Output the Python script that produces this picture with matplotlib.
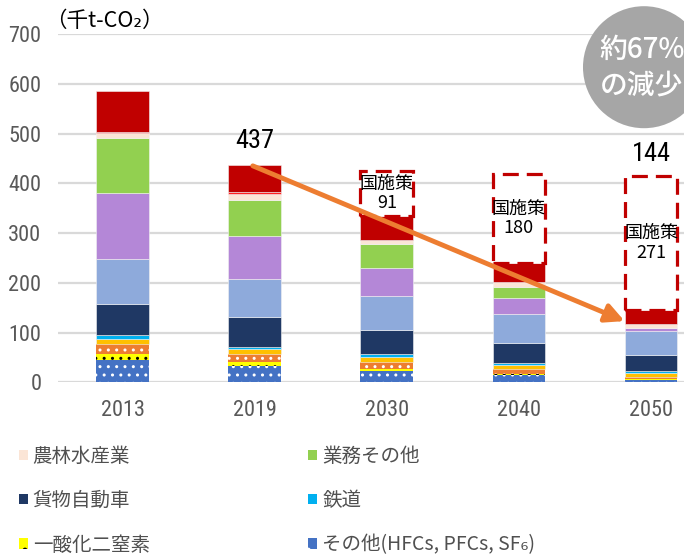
import matplotlib
matplotlib.use('Agg')
import numpy as np
from matplotlib import pyplot as plt
from matplotlib import font_manager
from matplotlib.patches import Patch, Ellipse

plt.rcParams['font.family'] = ['Noto Sans CJK JP', 'DejaVu Sans']
plt.rcParams['hatch.linewidth'] = 1.0

# pick the narrowest installed latin face for the numbers
installed = {f.name for f in font_manager.fontManager.ttflist}
narrow_fam = 'DejaVu Sans'
for cand in ['Liberation Sans Narrow', 'Roboto Condensed', 'Noto Sans Condensed',
             'Open Sans Condensed', 'Liberation Sans']:
    if cand in installed:
        narrow_fam = cand
        break

years = ['2013', '2019', '2030', '2040', '2050']

# stacked segments, bottom -> top (千t-CO2)
sonota = [45, 33, 23, 14, 4]          # その他(HFCs, PFCs, SF6)
n2o = [12, 8, 4, 3, 3]                # 一酸化二窒素
methane = [20, 15, 13, 9, 4]
waste = [10, 10, 11, 9, 8]
rail = [7.5, 5, 5, 3, 4]              # 鉄道
freight = [63.5, 60, 50, 42, 32]      # 貨物自動車
passenger = [89, 77, 67, 57, 48]
household = [133, 86, 57, 32, 6]
commercial = [111.5, 72, 47, 23, 0]   # 業務その他
agri = [9, 11.5, 8, 9, 8.5]           # 農林水産業
construction = [3, 4, 2, 1, 0]
manufacturing = [82.5, 55, 47, 37, 27]

# national measures (国施策) on top of 2030/2040/2050
kuni = [0, 0, 91, 180, 271]
top_labels = {1: '437', 4: '144'}

series = [
    (sonota, '#4472C4', '..', 'white', 'その他(HFCs, PFCs, SF₆)'),
    (n2o, '#FFFF00', '..', 'black', '一酸化二窒素'),
    (methane, '#ED7D31', '..', 'white', None),
    (waste, '#FFC000', None, None, None),
    (rail, '#00B0F0', None, None, '鉄道'),
    (freight, '#1F3864', None, None, '貨物自動車'),
    (passenger, '#8EAADB', None, None, None),
    (household, '#B487D7', None, None, None),
    (commercial, '#92D050', None, None, '業務その他'),
    (agri, '#FBE5D6', None, None, '農林水産業'),
    (construction, '#FF2020', None, None, None),
    (manufacturing, '#C00000', None, None, None),
]

fig = plt.figure(figsize=(6.84, 5.6), dpi=100)
ax = fig.add_axes([0.0848, 0.3173, 0.9635, 0.622])

x = np.arange(len(years))
w = 0.4
bottom = np.zeros(len(years))
handles = {}
for vals, col, hatch, hcol, name in series:
    vals = np.array(vals, dtype=float)
    if hatch:
        ax.bar(x, vals, w, bottom=bottom, color=col, edgecolor=hcol,
               hatch=hatch, linewidth=0, zorder=3)
    else:
        ax.bar(x, vals, w, bottom=bottom, color=col, edgecolor='#F2F2F2',
               linewidth=0.4, zorder=3)
    if name:
        handles[name] = Patch(facecolor=col, edgecolor=hcol if hcol else col,
                              hatch='.' if hatch else None, linewidth=0)
    bottom += vals

# dashed boxes for national measures
for i, k in enumerate(kuni):
    if k == 0:
        continue
    ax.bar(x[i], k, w, bottom=bottom[i], facecolor='white', edgecolor='#C00000',
           linewidth=2.3, linestyle=(0, (5, 2.5)), zorder=4)
    ax.text(x[i], bottom[i] + k / 2, '国施策\n' + str(k), ha='center', va='center',
            fontsize=13, color='black', linespacing=1.1, zorder=5)

label_gap = {1: 25, 4: 19}
for i, lab in top_labels.items():
    ypos = bottom[i] + kuni[i] + label_gap[i]
    ax.text(x[i], ypos, lab, ha='center', va='bottom', fontsize=19,
            color='black', zorder=5, family=narrow_fam)

# reduction arrow
ax.annotate('', xy=(3.8, 123), xytext=(0.985, 435),
            arrowprops=dict(arrowstyle='-|>', color='#ED7D31', lw=3.5,
                            mutation_scale=28, shrinkA=0, shrinkB=0), zorder=6)

ax.set_xlim(-0.49, 4.5)
ax.set_ylim(0, 700)
ax.set_yticks(range(0, 701, 100))
ax.set_xticks(x)
ax.set_xticklabels(years)
ax.tick_params(axis='both', length=0, colors='#595959', labelsize=16)
ax.tick_params(axis='y', pad=12)
ax.tick_params(axis='x', pad=13)
for lab in ax.get_xticklabels() + ax.get_yticklabels():
    lab.set_family(narrow_fam)
for s in ax.spines.values():
    s.set_visible(False)
ax.yaxis.grid(True, color='#D9D9D9', lw=1.6, zorder=0)
ax.set_axisbelow(True)

fig.text(0.066, 0.963, '（千t-CO₂）', fontsize=15.5, ha='left', va='center',
         family=['Noto Sans CJK JP', 'DejaVu Sans'])

# circle badge
circ = Ellipse((0.9415, 0.880), 122 / 684, 122 / 560, transform=fig.transFigure,
               facecolor='#A6A6A6', edgecolor='none', zorder=10)
fig.patches.append(circ)
fig.text(0.877, 0.911, '約67%', color='white', fontsize=20, ha='left',
         va='center', zorder=11, fontweight='medium')
fig.text(0.877, 0.848, 'の減少', color='white', fontsize=20, ha='left',
         va='center', zorder=11, fontweight='medium')

col1 = ['農林水産業', '貨物自動車', '一酸化二窒素']
col2 = ['業務その他', '鉄道', 'その他(HFCs, PFCs, SF₆)']
for names, xa in [(col1, 0.028), (col2, 0.451)]:
    fig.legend([handles[n] for n in names], names, loc='upper left',
               bbox_to_anchor=(xa, 0.204), frameon=False, fontsize=14,
               handlelength=0.45, handleheight=0.45, handletextpad=0.25,
               labelspacing=1.2, labelcolor='#505050', borderaxespad=0,
               borderpad=0)

fig.savefig('out.png', dpi=100)
